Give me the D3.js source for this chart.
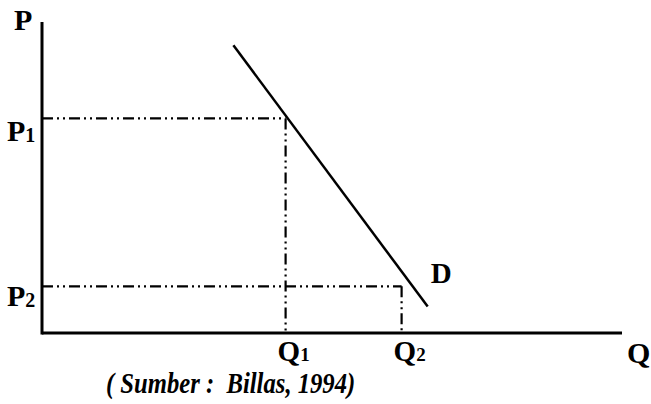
<!DOCTYPE html>
<html lang="en">
<head>
<meta charset="UTF-8">
<title>Kurva Permintaan</title>
<script src="https://cdn.jsdelivr.net/npm/d3@7"></script>
<style>
  body { margin: 0; background: #fff; }
  svg text { font-family: "Liberation Serif", "Times New Roman", serif; font-weight: bold; fill: #000; }
</style>
</head>
<body>
<div id="chart"></div>
<script>
// price / quantity points (chart units, 0-10)
const priceLevels = [6.9, 1.5];        // P1, P2
const priceLabels = ["P", "P"];
const priceSubs = ["1", "2"];
const qtyLevels = [4.2, 6.2];          // Q1, Q2
const qtyLabels = ["Q", "Q"];
const qtySubs = ["1", "2"];
const demandLine = [[3.3, 9.25], [6.65, 0.85]];
const demandLabel = "D";
const caption = "( Sumber :  Billas, 1994)";

const W = 651, H = 404;
const svg = d3.select("#chart").append("svg").attr("width", W).attr("height", H);

const x = d3.scaleLinear().domain([0, 10]).range([42, 622]);
const y = d3.scaleLinear().domain([0, 10]).range([333, 22]);

const dashPattern = "11,4,2,4,2,4";

// dashed guides
priceLevels.forEach((p, i) => {
    svg.append("line")
        .attr("x1", x(0)).attr("x2", x(qtyLevels[i]))
        .attr("y1", y(p)).attr("y2", y(p))
        .attr("stroke", "#000").attr("stroke-width", 2.2)
        .attr("stroke-dasharray", dashPattern);
    svg.append("line")
        .attr("x1", x(qtyLevels[i])).attr("x2", x(qtyLevels[i]))
        .attr("y1", y(p)).attr("y2", y(0))
        .attr("stroke", "#000").attr("stroke-width", 2.2)
        .attr("stroke-dasharray", dashPattern);
});

// axes
svg.append("line")
    .attr("x1", x(0)).attr("x2", x(0)).attr("y1", y(10)).attr("y2", y(0) + 1.5)
    .attr("stroke", "#000").attr("stroke-width", 3);
svg.append("line")
    .attr("x1", x(0)).attr("x2", x(10)).attr("y1", y(0)).attr("y2", y(0))
    .attr("stroke", "#000").attr("stroke-width", 3);

// demand curve
svg.append("path")
    .datum(demandLine)
    .attr("d", d3.line().x(d => x(d[0])).y(d => y(d[1])))
    .attr("stroke", "#000").attr("stroke-width", 2.5).attr("fill", "none");

// labels
svg.append("text").attr("x", 14).attr("y", 30).attr("font-size", 30).text("P");
svg.append("text").attr("x", 627).attr("y", 363).attr("font-size", 30).text("Q");
svg.append("text")
    .attr("x", x(demandLine[1][0]) + 3).attr("y", y(demandLine[1][1]) - 24)
    .attr("font-size", 29).text(demandLabel);

priceLevels.forEach((p, i) => {
    const t = svg.append("text").attr("x", 7).attr("y", y(p) + 23 - i * 3).attr("font-size", 30);
    t.append("tspan").text(priceLabels[i]);
    t.append("tspan").attr("font-size", 20).attr("dy", 1).text(priceSubs[i]);
});

qtyLevels.forEach((q, i) => {
    const t = svg.append("text").attr("x", x(q) - 8).attr("y", 361)
        .attr("font-size", 29);
    t.append("tspan").text(qtyLabels[i]);
    t.append("tspan").attr("font-size", 19).attr("dy", 0).text(qtySubs[i]);
});

// source note, a bit condensed like the scan
svg.append("text")
    .attr("transform", "translate(106,393) scale(0.85,1)")
    .attr("font-size", 29).attr("font-style", "italic")
    .attr("xml:space", "preserve")
    .style("white-space", "pre")
    .text(caption);
</script>
</body>
</html>
